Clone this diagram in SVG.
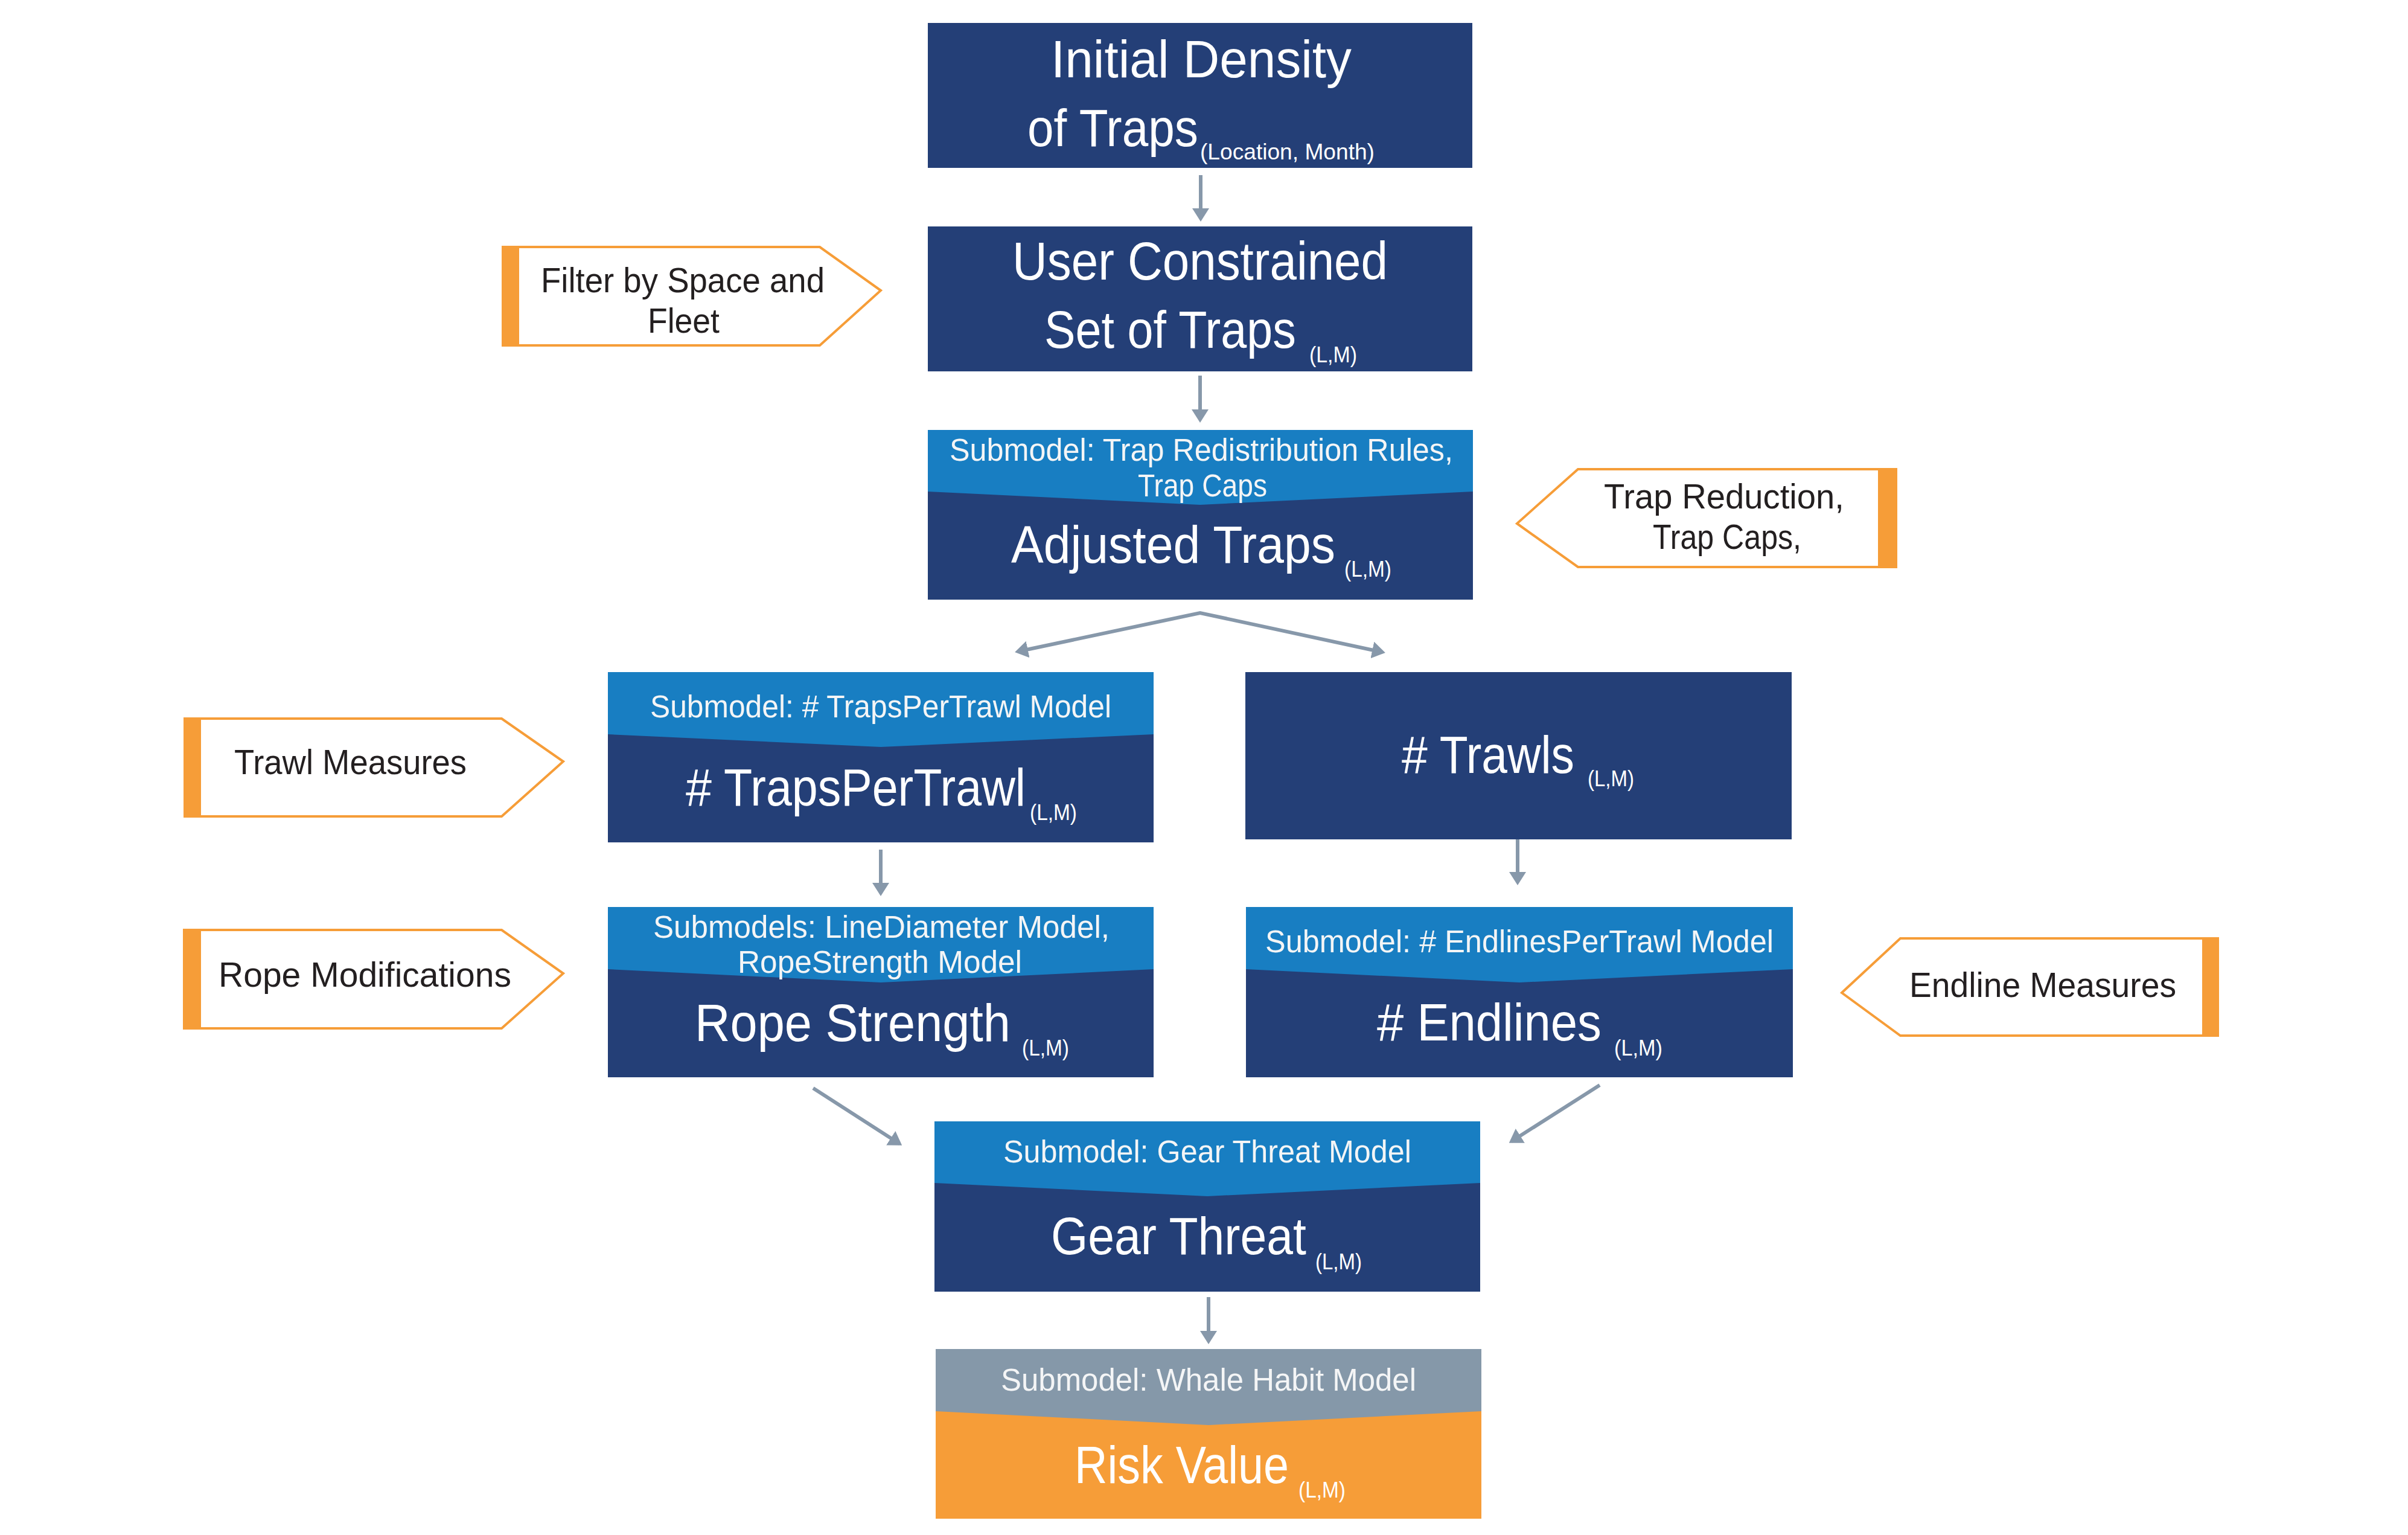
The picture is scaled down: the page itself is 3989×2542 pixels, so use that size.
<svg xmlns="http://www.w3.org/2000/svg" width="3989" height="2542" viewBox="0 0 3989 2542">
<defs>
<style>
text{font-family:'Liberation Sans',Arial,sans-serif;}
.navy{fill:#243F77;}
.hdr{fill:#187EC2;}
.ghdr{fill:#8598A9;}
.org{fill:#F69D38;}
.big{font-size:88px;fill:#FFFFFF;}
.sub{font-size:37px;fill:#FFFFFF;}
.h{font-size:51px;fill:#F4F5F6;}
.tag{fill:#FFFFFF;stroke:#F69D38;stroke-width:4;}
.bar{fill:#F69D38;}
.tt{font-size:57px;fill:#231F20;}
.con{fill:none;stroke:#8798AA;stroke-width:6;stroke-linejoin:miter;marker-end:url(#ah);}
</style>
<marker id="ah" markerUnits="userSpaceOnUse" markerWidth="22" markerHeight="28" viewBox="0 0 22 28" refX="17" refY="14" orient="auto-start-reverse">
<path d="M0,0 L22,14 L0,28 z" fill="#8798AA"/>
</marker>
</defs>
<rect width="3989" height="2542" fill="#FFFFFF"/>

<g id="connectors">
<path class="con" d="M1989,290 L1989,362"/>
<path class="con" d="M1988,622 L1988,695"/>
<path class="con" d="M1686,1079 L1988,1015 L2290,1080" style="marker-start:url(#ah)"/>
<path class="con" d="M1459,1407 L1459,1479"/>
<path class="con" d="M2514,1390 L2514,1461"/>
<path class="con" d="M1347,1802 L1490,1894"/>
<path class="con" d="M2650,1797 L2504,1890"/>
<path class="con" d="M2002,2148 L2002,2221"/>
</g>

<g id="initial-density">
<rect class="navy" x="1537" y="38" width="902" height="240"/>
<text class="big" transform="scale(0.952 1)" x="1828.8" y="128" textLength="523.1" lengthAdjust="spacingAndGlyphs">Initial Density</text>
<text class="big" transform="scale(0.877 1)" x="1940.7" y="242" textLength="322.7" lengthAdjust="spacingAndGlyphs">of Traps</text>
<text class="sub" x="1988" y="264" textLength="289" lengthAdjust="spacingAndGlyphs">(Location, Month)</text>
</g>

<g id="user-constrained">
<rect class="navy" x="1537" y="375" width="902" height="240"/>
<text class="big" transform="scale(0.909 1)" x="1844.9" y="463" textLength="684.3" lengthAdjust="spacingAndGlyphs">User Constrained</text>
<text class="big" transform="scale(0.870 1)" x="1988.5" y="576" textLength="479.3" lengthAdjust="spacingAndGlyphs">Set of Traps</text>
<text class="sub" x="2169" y="600" textLength="79" lengthAdjust="spacingAndGlyphs">(L,M)</text>
</g>

<g id="adjusted-traps">
<rect class="navy" x="1537" y="712" width="903" height="281"/>
<polygon class="hdr" points="1537,712 2440,712 2440,814 1988,836 1537,814"/>
<text class="h" x="1573" y="763" textLength="834" lengthAdjust="spacingAndGlyphs">Submodel: Trap Redistribution Rules,</text>
<text class="h" x="1885" y="822" textLength="214" lengthAdjust="spacingAndGlyphs">Trap Caps</text>
<text class="big" transform="scale(0.907 1)" x="1846.7" y="932" textLength="592.1" lengthAdjust="spacingAndGlyphs">Adjusted Traps</text>
<text class="sub" x="2227" y="955" textLength="78" lengthAdjust="spacingAndGlyphs">(L,M)</text>
</g>

<g id="traps-per-trawl">
<rect class="navy" x="1007" y="1113" width="904" height="282"/>
<polygon class="hdr" points="1007,1113 1911,1113 1911,1216 1459,1237 1007,1216"/>
<text class="h" x="1077" y="1188" textLength="764" lengthAdjust="spacingAndGlyphs">Submodel: # TrapsPerTrawl Model</text>
<text class="big" transform="scale(0.866 1)" x="1311.8" y="1334" textLength="650.1" lengthAdjust="spacingAndGlyphs"># TrapsPerTrawl</text>
<text class="sub" x="1706" y="1358" textLength="78" lengthAdjust="spacingAndGlyphs">(L,M)</text>
</g>

<g id="trawls">
<rect class="navy" x="2063" y="1113" width="905" height="277"/>
<text class="big" transform="scale(0.860 1)" x="2700" y="1280" textLength="332.6" lengthAdjust="spacingAndGlyphs"># Trawls</text>
<text class="sub" x="2630" y="1302" textLength="77" lengthAdjust="spacingAndGlyphs">(L,M)</text>
</g>

<g id="rope-strength">
<rect class="navy" x="1007" y="1502" width="904" height="282"/>
<polygon class="hdr" points="1007,1502 1911,1502 1911,1605 1459,1627 1007,1605"/>
<text class="h" x="1082" y="1553" textLength="756" lengthAdjust="spacingAndGlyphs">Submodels: LineDiameter Model,</text>
<text class="h" x="1222" y="1611" textLength="471" lengthAdjust="spacingAndGlyphs">RopeStrength Model</text>
<text class="big" transform="scale(0.922 1)" x="1248.4" y="1724" textLength="567.2" lengthAdjust="spacingAndGlyphs">Rope Strength</text>
<text class="sub" x="1693" y="1748" textLength="78" lengthAdjust="spacingAndGlyphs">(L,M)</text>
</g>

<g id="endlines">
<rect class="navy" x="2064" y="1502" width="906" height="282"/>
<polygon class="hdr" points="2064,1502 2970,1502 2970,1605 2517,1627 2064,1605"/>
<text class="h" x="2096" y="1577" textLength="842" lengthAdjust="spacingAndGlyphs">Submodel: # EndlinesPerTrawl Model</text>
<text class="big" transform="scale(0.905 1)" x="2520.4" y="1723" textLength="411" lengthAdjust="spacingAndGlyphs"># Endlines</text>
<text class="sub" x="2674" y="1748" textLength="80" lengthAdjust="spacingAndGlyphs">(L,M)</text>
</g>

<g id="gear-threat">
<rect class="navy" x="1548" y="1857" width="904" height="282"/>
<polygon class="hdr" points="1548,1857 2452,1857 2452,1959 2000,1981 1548,1959"/>
<text class="h" x="1662" y="1925" textLength="676" lengthAdjust="spacingAndGlyphs">Submodel: Gear Threat Model</text>
<text class="big" transform="scale(0.892 1)" x="1951.8" y="2077" textLength="474.2" lengthAdjust="spacingAndGlyphs">Gear Threat</text>
<text class="sub" x="2179" y="2102" textLength="77" lengthAdjust="spacingAndGlyphs">(L,M)</text>
</g>

<g id="risk-value">
<rect class="org" x="1550" y="2234" width="904" height="281"/>
<polygon class="ghdr" points="1550,2234 2454,2234 2454,2337 2002,2360 1550,2337"/>
<text class="h" x="1658" y="2303" textLength="688" lengthAdjust="spacingAndGlyphs">Submodel: Whale Habit Model</text>
<text class="big" transform="scale(0.844 1)" x="2109" y="2456" textLength="420.6" lengthAdjust="spacingAndGlyphs">Risk Value</text>
<text class="sub" x="2151" y="2480" textLength="78" lengthAdjust="spacingAndGlyphs">(L,M)</text>
</g>

<g id="filter-tag">
<polygon class="tag" points="845,409 1358,409 1459,481 1358,572 845,572"/>
<rect class="bar" x="831" y="407" width="29" height="167"/>
<text class="tt" x="896" y="484" textLength="470" lengthAdjust="spacingAndGlyphs">Filter by Space and</text>
<text class="tt" x="1073" y="551" textLength="119" lengthAdjust="spacingAndGlyphs">Fleet</text>
</g>

<g id="trap-reduction-tag">
<polygon class="tag" points="3125,777 2614,777 2513,867 2614,939 3125,939"/>
<rect class="bar" x="3111" y="775" width="32" height="166"/>
<text class="tt" x="2657" y="842" textLength="398" lengthAdjust="spacingAndGlyphs">Trap Reduction,</text>
<text class="tt" x="2738" y="909" textLength="246" lengthAdjust="spacingAndGlyphs">Trap Caps,</text>
</g>

<g id="trawl-measures-tag">
<polygon class="tag" points="318,1190 831,1190 933,1261 831,1352 318,1352"/>
<rect class="bar" x="304" y="1188" width="29" height="166"/>
<text class="tt" x="388" y="1282" textLength="385" lengthAdjust="spacingAndGlyphs">Trawl Measures</text>
</g>

<g id="rope-modifications-tag">
<polygon class="tag" points="318,1540 831,1540 933,1612 831,1703 318,1703"/>
<rect class="bar" x="303" y="1538" width="30" height="167"/>
<text class="tt" x="362" y="1634" textLength="485" lengthAdjust="spacingAndGlyphs">Rope Modifications</text>
</g>

<g id="endline-measures-tag">
<polygon class="tag" points="3660,1554 3148,1554 3051,1644 3148,1715 3660,1715"/>
<rect class="bar" x="3648" y="1552" width="28" height="165"/>
<text class="tt" x="3163" y="1651" textLength="442" lengthAdjust="spacingAndGlyphs">Endline Measures</text>
</g>
</svg>
